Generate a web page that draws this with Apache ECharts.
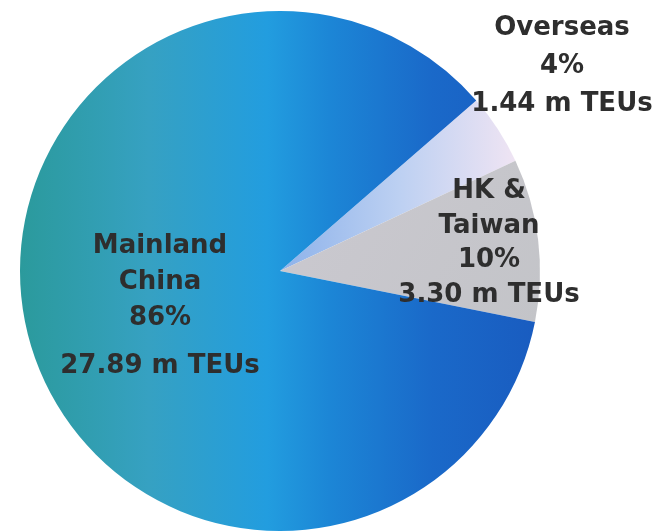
<!DOCTYPE html>
<html>
<head>
<meta charset="utf-8">
<title>Container throughput by origin</title>
<script src="https://cdn.jsdelivr.net/npm/echarts@6/dist/echarts.min.js"></script>
<style>
  html, body { margin: 0; padding: 0; background: #ffffff; }
  #chart { width: 666px; height: 531px; }
</style>
</head>
<body>
<div id="chart"></div>
<script>
// Throughput by origin, million TEUs
const regions = ['Overseas', 'HK & Taiwan', 'Mainland China'];
const labelLines = [['Overseas'], ['HK &', 'Taiwan'], ['Mainland', 'China']];
const teus = [1.44, 3.30, 27.89];
const shares = [4, 10, 86];

const sliceStyles = [
  {
    color: {
      type: 'linear', x: 0, y: 0, x2: 1, y2: 0,
      colorStops: [
        { offset: 0, color: '#8db2ea' },
        { offset: 0.5, color: '#bcd0f2' },
        { offset: 1, color: '#efe4f3' }
      ]
    }
  },
  {
    color: {
      type: 'linear', x: 0, y: 0, x2: 1, y2: 1,
      colorStops: [
        { offset: 0, color: '#cbc9d0' },
        { offset: 1, color: '#c3c4c8' }
      ]
    }
  },
  {
    color: {
      type: 'linear', x: 0, y: 0, x2: 1, y2: 0,
      colorStops: [
        { offset: 0, color: '#2b9a9c' },
        { offset: 0.25, color: '#36a1c2' },
        { offset: 0.48, color: '#229ddf' },
        { offset: 0.6, color: '#1c86d6' },
        { offset: 0.8, color: '#1a69c9' },
        { offset: 1, color: '#195cc0' }
      ]
    }
  }
];

// Label anchors (block centres) and per-block line heights
const labelAnchors = [
  { x: 562, y: 66, lh: 38 },
  { x: 489, y: 243, lh: 34.5 },
  { x: 160, y: 312, lh: 36 }
];

const data = regions.map((name, i) => ({
  name: name,
  value: teus[i],
  itemStyle: sliceStyles[i]
}));

function labelText(params) {
  const i = params.dataIndex;
  const lines = labelLines[i].concat([shares[i] + '%']);
  const styleName = 'l' + i;
  let txt = lines.map(s => '{' + styleName + '|' + s + '}').join('\n');
  const teuStyle = i === 2 ? 'gap' : styleName;
  txt += '\n{' + teuStyle + '|' + teus[i].toFixed(2) + ' m TEUs}';
  return txt;
}

const baseFont = {
  fontFamily: '"DejaVu Sans", "Liberation Sans", Arial, sans-serif',
  fontWeight: 'bold',
  fontSize: 26,
  color: '#2e2e2e',
  align: 'center'
};

const chart = echarts.init(document.getElementById('chart'), null, { renderer: 'canvas' });

chart.setOption({
  backgroundColor: '#ffffff',
  animation: false,
  series: [{
    type: 'pie',
    center: [280, 271],
    radius: [0, 260],
    startAngle: 41,
    clockwise: true,
    avoidLabelOverlap: false,
    silent: true,
    itemStyle: { borderWidth: 0 },
    label: {
      show: true,
      position: 'inside',
      formatter: labelText,
      rich: {
        l0: Object.assign({}, baseFont, { lineHeight: labelAnchors[0].lh }),
        l1: Object.assign({}, baseFont, { lineHeight: labelAnchors[1].lh }),
        l2: Object.assign({}, baseFont, { lineHeight: labelAnchors[2].lh }),
        gap: Object.assign({}, baseFont, { lineHeight: 60 })
      }
    },
    labelLine: { show: false },
    labelLayout: function (params) {
      const a = labelAnchors[params.dataIndex];
      return { x: a.x, y: a.y, align: 'center', verticalAlign: 'middle' };
    },
    data: data
  }]
});
</script>
</body>
</html>
